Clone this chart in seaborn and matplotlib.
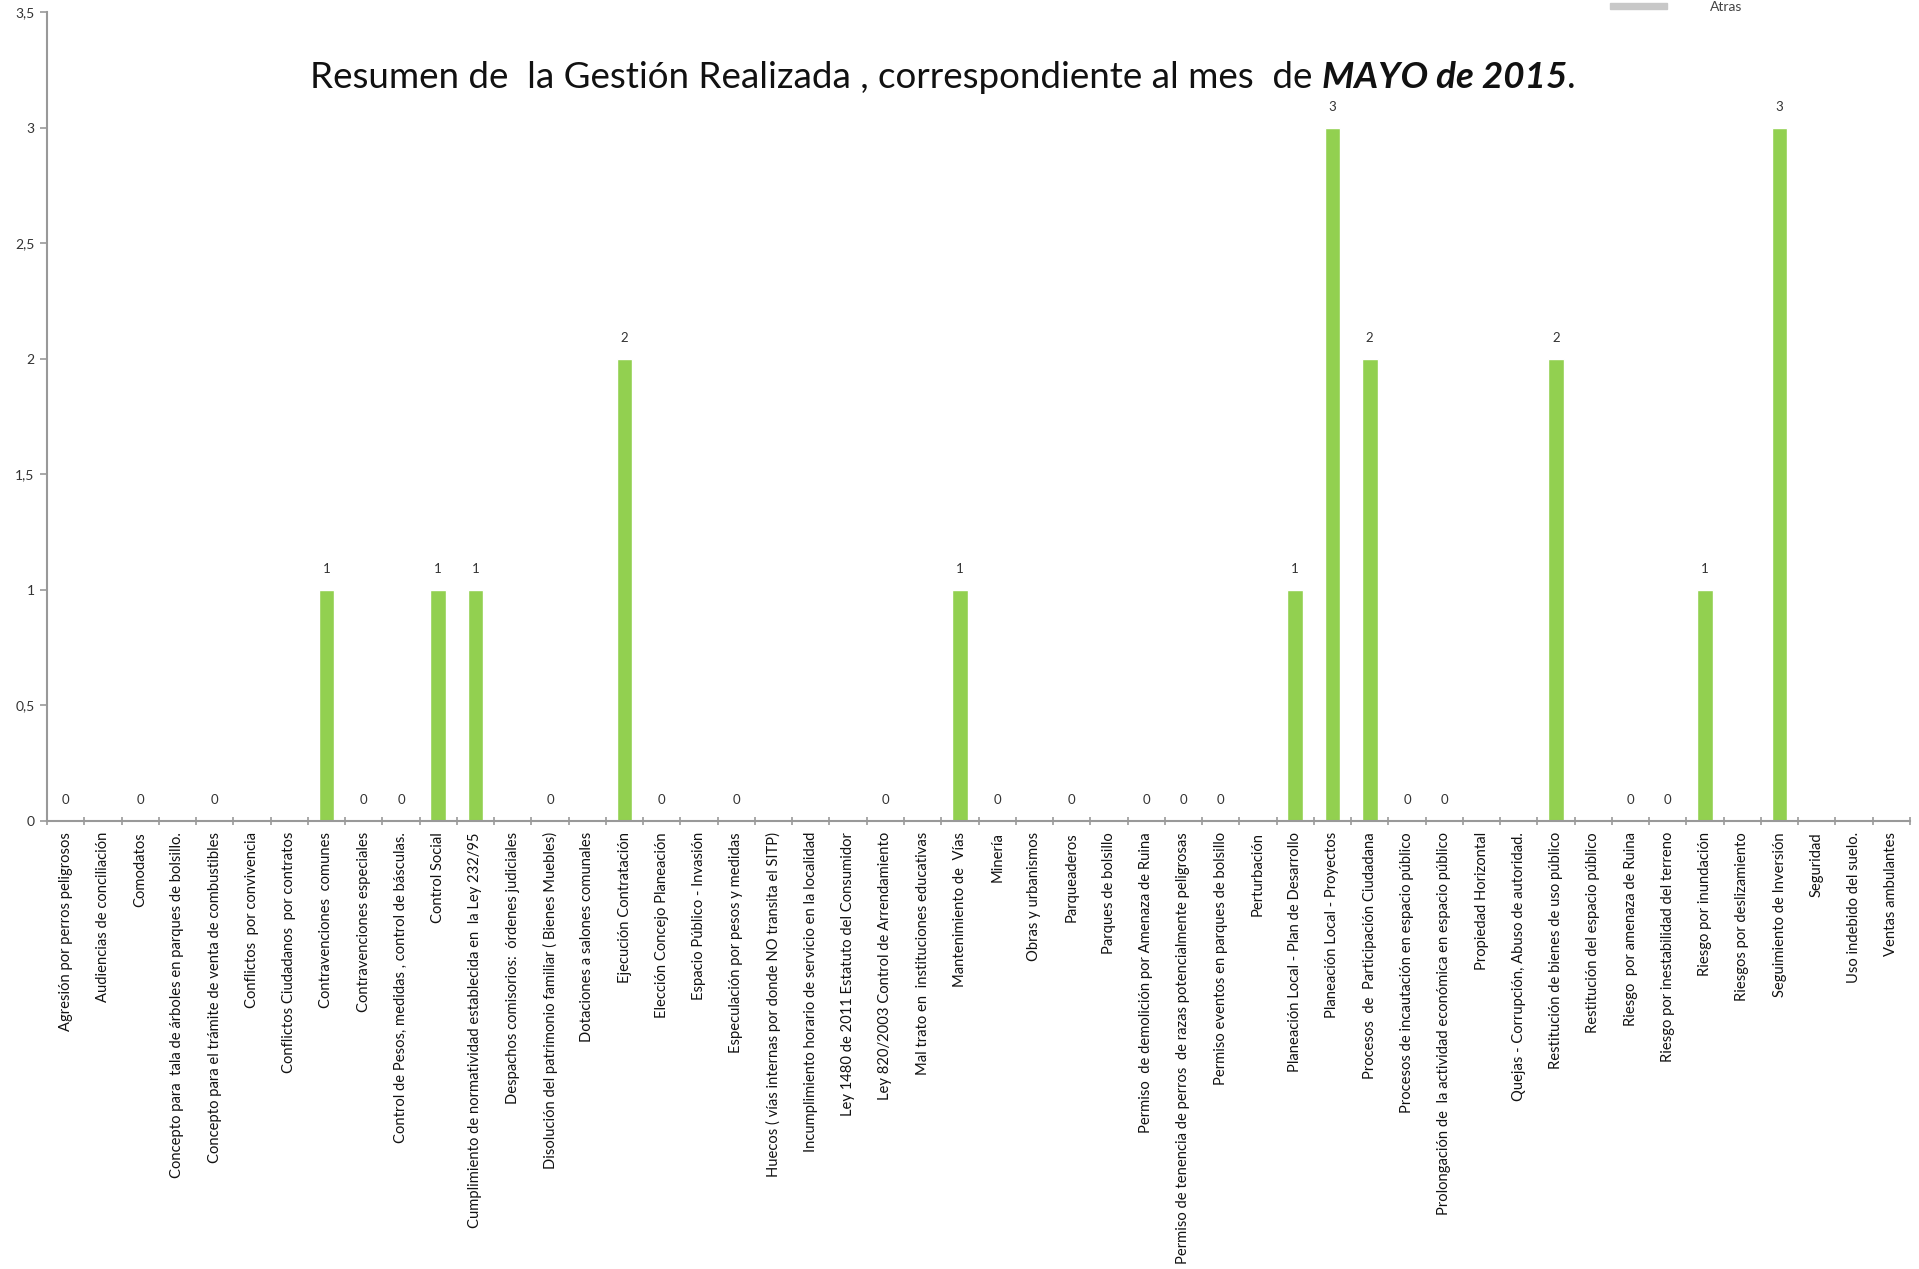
import numpy as np
import pandas as pd
import matplotlib
matplotlib.use("Agg")
import matplotlib.pyplot as plt
from matplotlib.ticker import FuncFormatter, FixedLocator
from matplotlib.patches import Rectangle
import seaborn as sns

categories = [
    "Agresión por perros peligrosos",
    "Audiencias de conciliación",
    "Comodatos",
    "Concepto para  tala de árboles en parques de bolsillo.",
    "Concepto para el trámite de venta de combustibles",
    "Conflictos  por convivencia",
    "Conflictos Ciudadanos  por contratos",
    "Contravenciones  comunes",
    "Contravenciones especiales",
    "Control de Pesos, medidas , control de básculas.",
    "Control Social",
    "Cumplimiento de normatividad establecida en  la Ley 232/95",
    "Despachos comisorios:  órdenes judiciales",
    "Disolución del patrimonio familiar ( Bienes Muebles)",
    "Dotaciones a salones comunales",
    "Ejecución Contratación",
    "Elección Concejo Planeación",
    "Espacio Público - Invasión",
    "Especulación por pesos y medidas",
    "Huecos ( vías internas por donde NO transita el SITP)",
    "Incumplimiento horario de servicio en la localidad",
    "Ley 1480 de 2011 Estatuto del Consumidor",
    "Ley 820/2003 Control de Arrendamiento",
    "Mal trato en  instituciones educativas",
    "Mantenimiento de  Vías",
    "Minería",
    "Obras y urbanismos",
    "Parqueaderos",
    "Parques de bolsillo",
    "Permiso  de demolición por Amenaza de Ruina",
    "Permiso de tenencia de perros  de razas potencialmente peligrosas",
    "Permiso eventos en parques de bolsillo",
    "Perturbación",
    "Planeación Local - Plan de Desarrollo",
    "Planeación Local - Proyectos",
    "Procesos  de  Participación Ciudadana",
    "Procesos de incautación en espacio público",
    "Prolongación de  la actividad económica en espacio público",
    "Propiedad Horizontal",
    "Quejas - Corrupción, Abuso de autoridad.",
    "Restitución de bienes de uso público",
    "Restitución del espacio público",
    "Riesgo  por amenaza de Ruina",
    "Riesgo por inestabilidad del terreno",
    "Riesgo por inundación",
    "Riesgos por deslizamiento",
    "Seguimiento de Inversión",
    "Seguridad",
    "Uso indebido del suelo.",
    "Ventas ambulantes",
]

nan = np.nan
values = [
    0, nan, 0, nan, 0, nan, nan, 1, 0, 0,
    1, 1, nan, 0, nan, 2, 0, nan, 0, nan,
    nan, nan, 0, nan, 1, 0, nan, 0, nan, 0,
    0, 0, nan, 1, 3, 2, 0, 0, nan, nan,
    2, nan, 0, 0, 1, nan, 3, nan, nan, nan,
]

title_regular = "Resumen de  la Gestión Realizada , correspondiente al mes  de "
title_bold = "MAYO de 2015"
title_end = "."
legend_label = "Atras"

yticks = [0, 0.5, 1, 1.5, 2, 2.5, 3, 3.5]

df = pd.DataFrame({"cat": categories, "val": values})
df["draw"] = df["val"].fillna(0)

sns.set_theme(style="white")
FONT = ["Lato", "DejaVu Sans"]
plt.rcParams["font.family"] = FONT

W, H = 1919, 1269
fig = plt.figure(figsize=(W / 100, H / 100), dpi=100)
ax = fig.add_axes([47 / W, 1 - 821 / H, (1910 - 47) / W, (821 - 12) / H])

sns.barplot(data=df, x="cat", y="draw", order=categories, color="#92D050",
            saturation=1, width=0.42, ax=ax, errorbar=None)

for i, v in enumerate(values):
    if not np.isnan(v):
        ax.annotate(f"{int(v)}", (i, v), xytext=(0, 15), textcoords="offset points",
                    ha="center", va="center", fontsize=9.5, color="#333333")

ax.set_xlim(-0.5, len(categories) - 0.5)
ax.set_ylim(0, 3.5)
ax.set_yticks(yticks)
ax.yaxis.set_major_formatter(FuncFormatter(
    lambda v, p: (f"{v:g}").replace(".", ",")))
ax.set_xlabel("")
ax.set_ylabel("")
ax.set_xticks(range(len(categories)))
ax.set_xticklabels(categories, rotation=90, fontsize=10.6, color="#111111")
ax.tick_params(axis="x", which="major", length=0, pad=8)
ax.xaxis.set_minor_locator(FixedLocator(np.arange(-0.5, len(categories), 1)))
ax.tick_params(axis="x", which="minor", length=6, width=1.2, color="#999999",
               direction="inout", bottom=True)
ax.tick_params(axis="y", which="major", length=5, width=1.2, color="#999999",
               direction="out", left=True, labelsize=10, labelcolor="#333333", pad=4)

for s in ["top", "right"]:
    ax.spines[s].set_visible(False)
for s in ["left", "bottom"]:
    ax.spines[s].set_color("#999999")
    ax.spines[s].set_linewidth(1.5)

# Title with mixed styles
fig.canvas.draw()
renderer = fig.canvas.get_renderer()
ty = 1 - 77 / H
parts = [(title_regular, "normal", "normal"),
         (title_bold, "bold", "italic"),
         (title_end, "normal", "normal")]
texts = []
for txt, wgt, sty in parts:
    t = fig.text(0, ty, txt, fontsize=26.5, fontweight=wgt, fontstyle=sty,
                 va="center", ha="left", color="#111111")
    texts.append(t)
widths = [t.get_window_extent(renderer).width for t in texts]
total = sum(widths)
x0 = 943 - total / 2
for t, w in zip(texts, widths):
    t.set_x(x0 / W)
    x0 += w

# small legend at the top edge
fig.patches.append(Rectangle((1610 / W, 1 - 9 / H), 57 / W, 6 / H,
                             transform=fig.transFigure, color="#c8c8c8", zorder=5))
fig.text(1710 / W, 1 - 1 / H, legend_label, fontsize=10, va="top", ha="left",
         color="#444444")

fig.savefig("out.png", dpi=100)
